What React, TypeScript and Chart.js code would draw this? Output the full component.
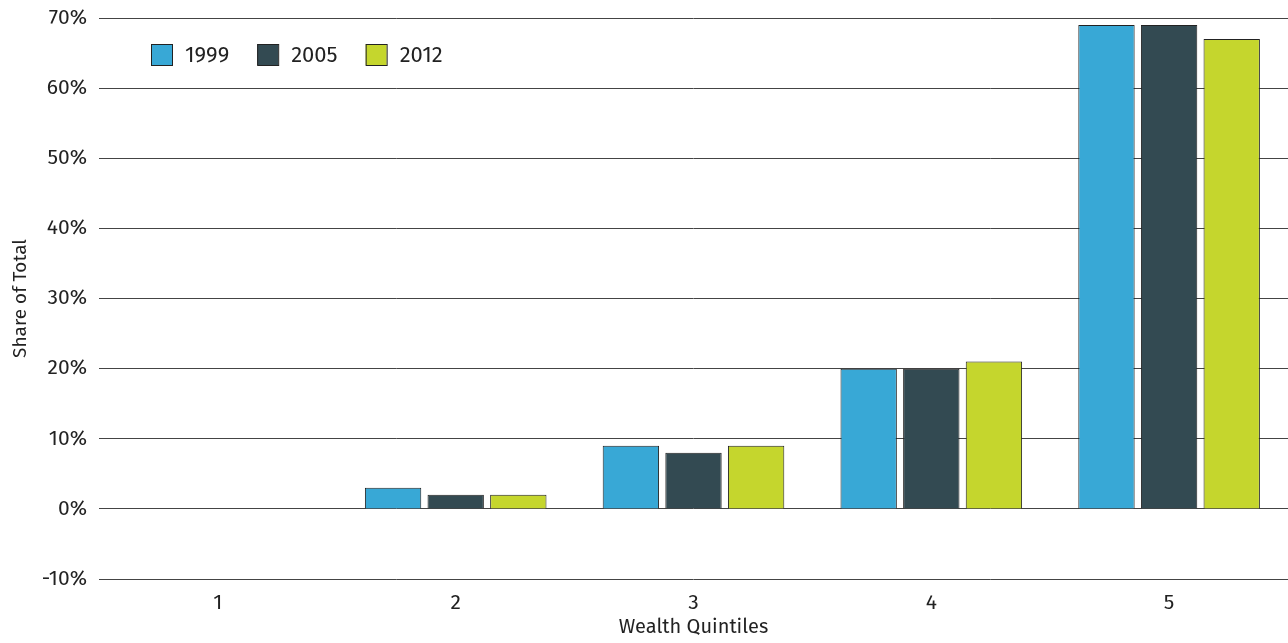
import React, { useEffect, useRef } from "react";
import { Chart, registerables } from "chart.js";

Chart.register(...registerables);

const categories = ["1", "2", "3", "4", "5"];
const series1999 = [0, 3, 9, 20, 69];
const series2005 = [0, 2, 8, 20, 69];
const series2012 = [0, 2, 9, 21, 67];
const seriesLabels = ["1999", "2005", "2012"];
const seriesColors = ["#38A8D6", "#334A52", "#C5D62D"];
const yTicks = [-10, 0, 10, 20, 30, 40, 50, 60, 70];

const FONT = "'Fira Sans', 'Open Sans', 'DejaVu Sans', sans-serif";

const legendPlugin = {
  id: "insideLegend",
  afterDraw(chart: any) {
    const ctx = chart.ctx;
    const area = chart.chartArea;
    let x = area.left + 52;
    const y = area.top + 26;
    ctx.save();
    ctx.font = `22px ${FONT}`;
    ctx.textBaseline = "middle";
    chart.data.datasets.forEach((ds: any) => {
      ctx.fillStyle = ds.backgroundColor;
      ctx.fillRect(x, y, 21, 21);
      ctx.strokeStyle = "#222";
      ctx.lineWidth = 1;
      ctx.strokeRect(x + 0.5, y + 0.5, 21, 21);
      ctx.fillStyle = "#222";
      ctx.fillText(ds.label, x + 34, y + 12);
      x += 34 + ctx.measureText(ds.label).width + 28;
    });
    ctx.restore();
  },
};

export default function App() {
  const ref = useRef<HTMLCanvasElement>(null);
  useEffect(() => {
    document.body.style.margin = "0";
    const data = [series1999, series2005, series2012];
    const chart = new Chart(ref.current!, {
      type: "bar",
      data: {
        labels: categories,
        datasets: seriesLabels.map((l, i) => ({
          label: l,
          data: data[i],
          backgroundColor: seriesColors[i],
          borderColor: "#222",
          borderWidth: 1,
          barPercentage: 0.9,
          categoryPercentage: 0.79,
        })),
      },
      options: {
        animation: false,
        responsive: false,
        maintainAspectRatio: false,
        layout: { padding: { top: 18, right: 0, left: 0, bottom: 0 } },
        plugins: {
          legend: { display: false },
          tooltip: { enabled: false },
        },
        scales: {
          x: {
            afterFit: (axis: any) => {
              axis.height = 64;
            },
            grid: { display: false, drawTicks: false },
            border: { display: false },
            ticks: { color: "#222", font: { family: FONT, size: 21 }, padding: 12 },
            title: {
              display: true,
              text: "Wealth Quintiles",
              color: "#222",
              font: { family: FONT, size: 20 },
              padding: { top: 0, bottom: 4 },
            },
          },
          y: {
            min: -10,
            max: 70,
            afterFit: (axis: any) => {
              axis.width = 99;
              axis.paddingTop = 0;
              axis.paddingBottom = 0;
            },
            afterBuildTicks: (axis: any) => {
              axis.ticks = yTicks.map((v) => ({ value: v }));
            },
            grid: { color: "#444", lineWidth: 1, drawTicks: false },
            border: { display: false },
            ticks: {
              color: "#222",
              font: { family: FONT, size: 21 },
              padding: 12,
              callback: (v: any) => `${v}%`,
            },
            title: {
              display: true,
              text: "Share of Total",
              color: "#222",
              font: { family: FONT, size: 19 },
              padding: { top: 9, bottom: 0 },
            },
          },
        },
      },
      plugins: [legendPlugin],
    });
    return () => chart.destroy();
  }, []);
  return (
    <div style={{ position: "absolute", left: 0, top: 0, width: 1288, height: 643 }}>
      <canvas ref={ref} width={1288} height={643} />
    </div>
  );
}
